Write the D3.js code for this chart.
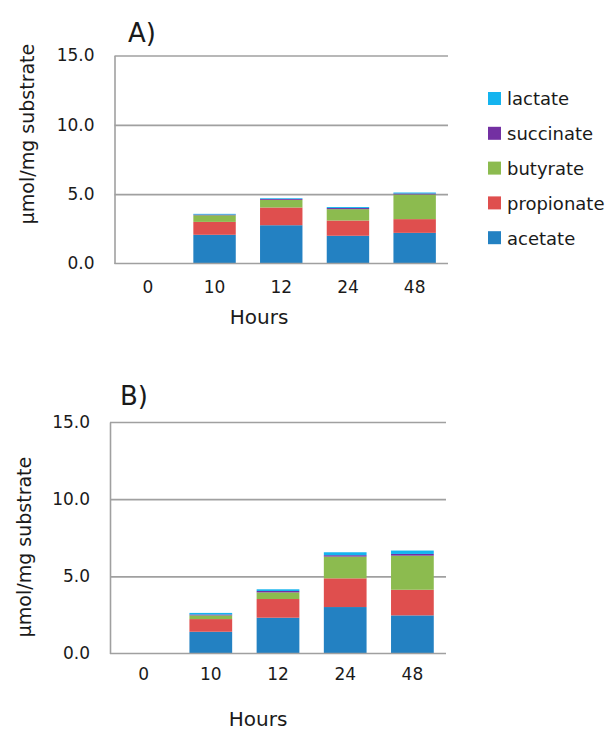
<!DOCTYPE html>
<html>
<head>
<meta charset="UTF-8">
<script src="https://cdn.jsdelivr.net/npm/d3@7"></script>
<style>
  body { margin: 0; background: #fff; }
  svg text { font-family: "DejaVu Sans", Verdana, sans-serif; fill: #1a1a1a; }
  .axis path, .axis line { stroke: #a0a0a0; stroke-width: 1.6; }
  .grid line { stroke: #a0a0a0; stroke-width: 1.6; }
  .grid path { display: none; }
</style>
</head>
<body>
<div id="chart"></div>
<script>
// categories and series (umol/mg substrate)
var hours = ["0", "10", "12", "24", "48"];
var acids = ["acetate", "propionate", "butyrate", "succinate", "lactate"];
var legendOrder = ["lactate", "succinate", "butyrate", "propionate", "acetate"];
var yTicks = [0, 5, 10, 15];

// panel A
var acetateA    = [0, 2.07, 2.76, 2.00, 2.21];
var propionateA = [0, 0.93, 1.28, 1.10, 0.99];
var butyrateA   = [0, 0.48, 0.55, 0.82, 1.78];
var succinateA  = [0, 0.05, 0.07, 0.08, 0.07];
var lactateA    = [0, 0.05, 0.05, 0.07, 0.07];

// panel B
var acetateB    = [0, 1.41, 2.32, 3.01, 2.47];
var propionateB = [0, 0.82, 1.21, 1.86, 1.66];
var butyrateB   = [0, 0.24, 0.43, 1.41, 2.21];
var succinateB  = [0, 0.06, 0.09, 0.09, 0.11];
var lactateB    = [0, 0.10, 0.11, 0.19, 0.22];

var colors = {
  acetate: "#2381c2",
  propionate: "#df4f4e",
  butyrate: "#8cbb4f",
  succinate: "#7330a2",
  lactate: "#14b4ef"
};

function table(a, p, b, s, l) {
  return hours.map(function(h, i) {
    return {hour: h, acetate: a[i], propionate: p[i], butyrate: b[i], succinate: s[i], lactate: l[i]};
  });
}

var panels = [
  {label: "A)", data: table(acetateA, propionateA, butyrateA, succinateA, lactateA),
   left: 114.5, right: 448, top: 55.5, bottom: 263.5, titleX: 128, titleY: 42,
   ytitleX: 34, ytitleY: 134, xlabPad: 17, hoursX: 259, hoursY: 324},
  {label: "B)", data: table(acetateB, propionateB, butyrateB, succinateB, lactateB),
   left: 110, right: 446, top: 422, bottom: 653.5, titleX: 120, titleY: 405,
   ytitleX: 31, ytitleY: 547, xlabPad: 14, hoursX: 258, hoursY: 726}
];

var svg = d3.select("#chart").append("svg")
    .attr("width", 611)
    .attr("height", 730);

var stack = d3.stack().keys(acids);

panels.forEach(function(pn) {
  var w = pn.right - pn.left,
      h = pn.bottom - pn.top;

  var x = d3.scaleBand().domain(hours).range([0, w])
      .paddingInner(0.364).paddingOuter(0.182);
  var y = d3.scaleLinear().domain([0, 15]).range([h, 0]);

  var g = svg.append("g")
      .attr("transform", "translate(" + pn.left + "," + pn.top + ")");

  // gridlines
  g.append("g")
      .attr("class", "grid")
      .call(d3.axisLeft(y).tickValues(yTicks.slice(1)).tickSize(-w).tickFormat(""));

  // bars
  var series = stack(pn.data);
  g.selectAll(".layer")
      .data(series)
    .enter().append("g")
      .attr("class", "layer")
      .style("fill", function(d) { return colors[d.key]; })
    .selectAll("rect")
      .data(function(d) { return d; })
    .enter().append("rect")
      .attr("x", function(d) { return x(d.data.hour); })
      .attr("width", x.bandwidth())
      .attr("y", function(d) { return y(d[1]); })
      .attr("height", function(d) { return y(d[0]) - y(d[1]); });

  // y axis
  var yAxis = g.append("g")
      .attr("class", "axis")
      .call(d3.axisLeft(y).tickValues(yTicks).tickSize(0).tickPadding(20)
        .tickFormat(d3.format(".1f")));
  yAxis.selectAll("text").style("font-size", "17px");

  // x axis
  var xAxis = g.append("g")
      .attr("class", "axis")
      .attr("transform", "translate(0," + h + ")")
      .call(d3.axisBottom(x).tickSize(0).tickPadding(pn.xlabPad));
  xAxis.select(".domain").attr("d", "M0,0H" + w);
  xAxis.selectAll("text").style("font-size", "17px");

  // titles
  svg.append("text")
      .attr("x", pn.titleX)
      .attr("y", pn.titleY)
      .style("font-size", "26px")
      .text(pn.label);

  svg.append("text")
      .attr("transform", "translate(" + pn.ytitleX + "," + pn.ytitleY + ") rotate(-90)")
      .style("text-anchor", "middle")
      .style("font-size", "19px")
      .text("μmol/mg substrate");

  svg.append("text")
      .attr("x", pn.hoursX)
      .attr("y", pn.hoursY)
      .style("text-anchor", "middle")
      .style("font-size", "20px")
      .text("Hours");
});

// legend
var legend = svg.append("g").attr("transform", "translate(488,92)");
var item = legend.selectAll(".item")
    .data(legendOrder)
  .enter().append("g")
    .attr("transform", function(d, i) { return "translate(0," + (i * 34.8) + ")"; });
item.append("rect")
    .attr("width", 13)
    .attr("height", 13)
    .style("fill", function(d) { return colors[d]; });
item.append("text")
    .attr("x", 19)
    .attr("y", 7)
    .attr("dy", ".35em")
    .style("font-size", "18px")
    .text(function(d) { return d; });
</script>
</body>
</html>
